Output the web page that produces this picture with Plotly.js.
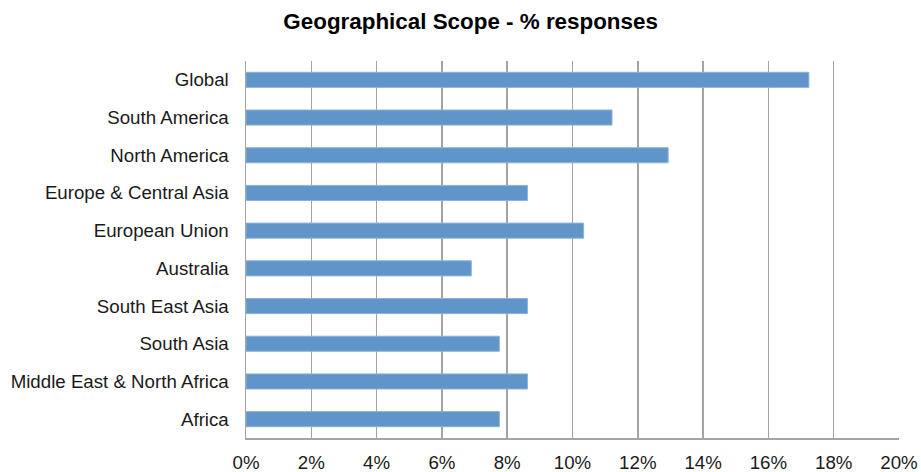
<!DOCTYPE html>
<html>
<head>
<meta charset="utf-8">
<script src="https://cdn.plot.ly/plotly-3.0.1.min.js"></script>
<style>
  html, body { margin: 0; padding: 0; background: #ffffff; }
  #chart { width: 921px; height: 472px; }
</style>
</head>
<body>
<div id="chart"></div>
<script>
// Regions, listed top to bottom as they appear on the chart
const regions = [
  'Global',
  'South America',
  'North America',
  'Europe & Central Asia',
  'European Union',
  'Australia',
  'South East Asia',
  'South Asia',
  'Middle East & North Africa',
  'Africa'
];

// Share of responses for each region (fraction of all responses)
const shares = [0.1724, 0.1121, 0.1293, 0.0862, 0.1034, 0.0690, 0.0862, 0.0776, 0.0862, 0.0776];

// Axis ticks
const tickValues = [0, 0.02, 0.04, 0.06, 0.08, 0.10, 0.12, 0.14, 0.16, 0.18, 0.20];
const tickLabels = ['0%', '2%', '4%', '6%', '8%', '10%', '12%', '14%', '16%', '18%', '20%'];

const trace = {
  type: 'bar',
  orientation: 'h',
  y: regions,
  x: shares,
  marker: {
    color: '#5f95c8',
    line: { color: '#8db2da', width: 1 }
  },
  hoverinfo: 'x+y'
};

const layout = {
  width: 921,
  height: 472,
  margin: { l: 246, r: 22, t: 61, b: 34, pad: 0 },
  paper_bgcolor: '#ffffff',
  plot_bgcolor: '#ffffff',
  bargap: 0.6,
  showlegend: false,
  font: { family: 'Liberation Sans, Arial, sans-serif', size: 18.7, color: '#1a1a1a' },
  title: {
    text: '<b>Geographical Scope - % responses</b>',
    font: { family: 'Liberation Sans, Arial, sans-serif', size: 22.4, color: '#000000' },
    x: 0.511,
    xanchor: 'center',
    y: 0.955,
    yanchor: 'middle'
  },
  xaxis: {
    range: [0, 0.20],
    tickvals: tickValues,
    ticktext: tickLabels,
    showgrid: true,
    gridcolor: '#a3a3a3',
    gridwidth: 1.5,
    zeroline: false,
    showline: true,
    linecolor: '#a3a3a3',
    linewidth: 1.5,
    ticks: '',
    ticklabelstandoff: 7,
    tickfont: { size: 18.7, color: '#1a1a1a' },
    fixedrange: true
  },
  yaxis: {
    type: 'category',
    autorange: 'reversed',
    showgrid: false,
    zeroline: false,
    showline: true,
    linecolor: '#a3a3a3',
    linewidth: 1.5,
    ticks: '',
    ticklabelstandoff: 12,
    tickfont: { size: 18.7, color: '#1a1a1a' },
    fixedrange: true
  }
};

Plotly.newPlot('chart', [trace], layout, { displayModeBar: false, staticPlot: true });
</script>
</body>
</html>
